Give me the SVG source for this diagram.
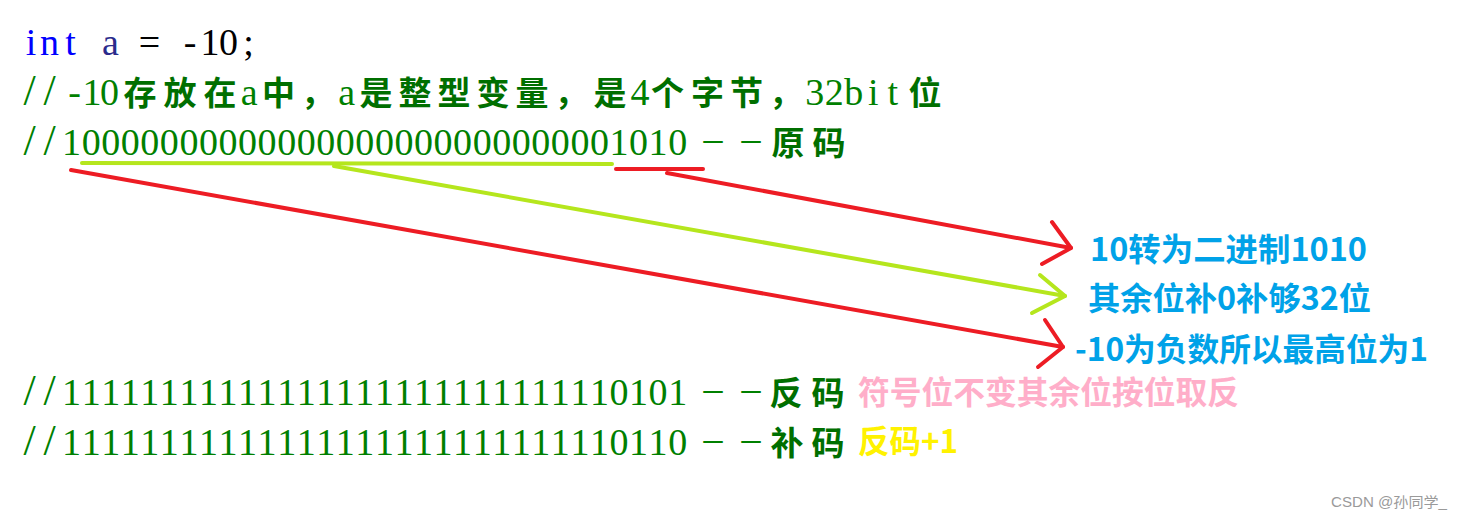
<svg xmlns="http://www.w3.org/2000/svg" width="1462" height="521" viewBox="0 0 1462 521">
<style>
.code{font-family:"Liberation Serif","Noto Sans CJK SC",serif;font-size:38px;fill:#008000;text-anchor:middle}
.sl{font-size:44px}
.cjk{font-family:"Noto Sans CJK SC",sans-serif;font-size:33px;font-weight:bold;fill:#006f00;text-anchor:middle}
.dash{font-family:"Liberation Serif",serif;font-size:38px;fill:#008000;text-anchor:middle}
.note{font-family:"Noto Sans CJK SC","Liberation Sans",sans-serif;font-size:32px;font-weight:bold}
.blue{fill:#00a2e8}
.pink{fill:#ffaec9}
.yellow{fill:#fff200}
.red{fill:none;stroke:#ed1c24;stroke-width:4;stroke-linecap:round;stroke-linejoin:round}
.green{fill:none;stroke:#b5e61d;stroke-width:4;stroke-linecap:round;stroke-linejoin:round}
.wm{font-family:"Liberation Sans","Noto Sans CJK SC",sans-serif;font-size:14px;fill:#9a9a9a}
</style>
<rect width="1462" height="521" fill="#ffffff"/>

<g id="line1">
<text class="code" y="55" x="31 49.5 70.5 90 110.5 130 149.5 170 190 210 228.5 248.5" style="fill:#000000"><tspan style="fill:#0000ff">int</tspan> <tspan style="fill:#2b2b8c">a</tspan> = -10;</text>
</g>

<g id="line2">
<text class="code" y="105"><tspan class="sl" x="29.5 49.5">//</tspan><tspan x="74.5 92 109.5">-10</tspan><tspan class="cjk" x="140 180 220">存放在</tspan><tspan x="249.25">a</tspan><tspan class="cjk" x="278.5 317.5">中，</tspan><tspan x="346.75">a</tspan><tspan class="cjk" x="376 415 454 493 532 571 610">是整型变量，是</tspan><tspan x="640">4</tspan><tspan class="cjk" x="667.5 707.5 746.5 785.5">个字节，</tspan><tspan x="814.75 834.25 853.75 873.25 892.75">32bit</tspan><tspan class="cjk" x="925">位</tspan></text>
</g>

<g id="line3">
<text class="code" y="155"><tspan class="sl" x="29.5 49.5">//</tspan><tspan x="71.6 91.15 110.7 130.25 149.8 169.35 188.9 208.45 228 247.55 267.1 286.65 306.2 325.75 345.3 364.85 384.4 403.95 423.5 443.05 462.6 482.15 501.7 521.25 540.8 560.35 579.9 599.45 619 638.55 658.1 677.65">10000000000000000000000000001010</tspan></text>
<text class="dash" y="151" x="713 751">––</text>
<text class="cjk" y="155" x="788 829">原码</text>
</g>

<g id="line4">
<text class="code" y="405"><tspan class="sl" x="29.5 49.5">//</tspan><tspan x="71.6 91.15 110.7 130.25 149.8 169.35 188.9 208.45 228 247.55 267.1 286.65 306.2 325.75 345.3 364.85 384.4 403.95 423.5 443.05 462.6 482.15 501.7 521.25 540.8 560.35 579.9 599.45 619 638.55 658.1 677.65">11111111111111111111111111110101</tspan></text>
<text class="dash" y="401" x="713 751">––</text>
<text class="cjk" y="405" x="786 828">反码</text>
<text class="note pink" x="858" y="404" textLength="381" lengthAdjust="spacingAndGlyphs">符号位不变其余位按位取反</text>
</g>

<g id="line5">
<text class="code" y="455"><tspan class="sl" x="29.5 49.5">//</tspan><tspan x="71.6 91.15 110.7 130.25 149.8 169.35 188.9 208.45 228 247.55 267.1 286.65 306.2 325.75 345.3 364.85 384.4 403.95 423.5 443.05 462.6 482.15 501.7 521.25 540.8 560.35 579.9 599.45 619 638.55 658.1 677.65">11111111111111111111111111110110</tspan></text>
<text class="dash" y="451" x="713 751">––</text>
<text class="cjk" y="455" x="787 828">补码</text>
<text class="note yellow" x="858" y="453" textLength="100" lengthAdjust="spacingAndGlyphs">反码+1</text>
</g>

<g id="note-binary">
<text class="note blue" x="1090" y="261" textLength="277" lengthAdjust="spacingAndGlyphs">10转为二进制1010</text>
</g>
<g id="note-fill">
<text class="note blue" x="1088" y="310" textLength="283" lengthAdjust="spacingAndGlyphs">其余位补0补够32位</text>
</g>
<g id="note-sign">
<text class="note blue" x="1075" y="361" textLength="353" lengthAdjust="spacingAndGlyphs">-10为负数所以最高位为1</text>
</g>

<g id="connectors">
<line class="green" x1="82" y1="163" x2="612" y2="164"/>
<line class="red" x1="616" y1="169" x2="703" y2="169"/>
<polyline class="red" points="667,173 1071,248"/>
<polyline class="red" points="1052,222 1071,248 1042,264"/>
<polyline class="green" points="334,166 1065,296"/>
<polyline class="green" points="1040,275 1065,296 1032,313"/>
<polyline class="red" points="71,170 1063,347"/>
<polyline class="red" points="1045,320 1063,347 1038,367"/>
</g>

<text class="wm" x="1331" y="507" textLength="116" lengthAdjust="spacingAndGlyphs">CSDN @孙同学_</text>
</svg>
